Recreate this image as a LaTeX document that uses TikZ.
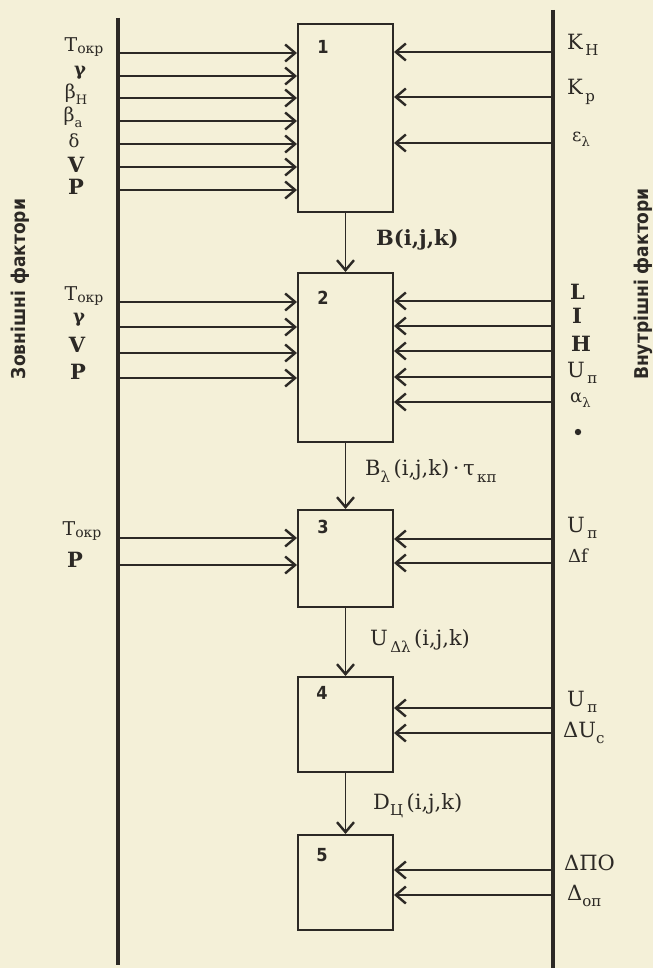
\documentclass[tikz,border=0pt]{standalone}
\usepackage{fontspec}
\setmainfont{DejaVu Serif}
\newfontfamily\sansbold{DejaVu Sans}[FakeStretch=0.9]
\usetikzlibrary{arrows.meta}
\definecolor{paper}{RGB}{244,240,216}
\definecolor{ink}{RGB}{44,41,37}
\newcommand{\lsb}[1]{\raisebox{-0.3em}{\fontsize{15}{15}\selectfont #1}}
\newcommand{\ssb}[1]{\raisebox{-0.3em}{\fontsize{13}{13}\selectfont #1}}
\newcommand{\tsb}[1]{\raisebox{-0.1em}{\fontsize{14}{14}\selectfont #1}}
\begin{document}
\begin{tikzpicture}[x=1pt,y=-1pt,
  bar/.style={draw=ink,line width=3.8pt},
  blk/.style={draw=ink,line width=2pt,minimum width=95pt,inner sep=0pt},
  inarrow/.style={draw=ink,line width=1.5pt,-{Straight Barb[length=10pt,width=17pt,line width=2.4pt]}},
  flow/.style={draw=ink,line width=1.5pt,-{Straight Barb[length=10pt,width=17pt,line width=2.4pt]}},
  lbl/.style={text=ink,inner sep=0pt,font=\fontsize{21}{21}\selectfont},
  blbl/.style={text=ink,inner sep=0pt,font=\fontsize{21}{21}\selectfont\bfseries},
  glbl/.style={text=ink,inner sep=0pt,font=\fontsize{18}{18}\selectfont},
  tlbl/.style={text=ink,inner sep=0pt,font=\fontsize{19}{19}\selectfont},
  num/.style={text=ink,inner sep=0pt,font=\sansbold\bfseries\fontsize{18}{18}\selectfont},
  side/.style={text=ink,inner sep=0pt,rotate=90,font=\sansbold\bfseries\fontsize{19}{19}\selectfont}
]
\fill[paper] (0,0) rectangle (653,968);
\useasboundingbox (0,0) rectangle (653,968);

% bars
\coordinate (lbt) at (118,18);
\coordinate (lbb) at (118,965);
\coordinate (rbt) at (553,10);
\coordinate (rbb) at (553,968);
\draw[bar] (lbt) -- (lbb);
\draw[bar] (rbt) -- (rbb);

% side labels
\node[side] (ext) at (20,289) {Зовнішні фактори};
\node[side] (int) at (643,284) {Внутрішні фактори};

% blocks
\node[blk,minimum height=188pt] (b1) at (345.5,118) {};
\node[blk,minimum height=169pt] (b2) at (345.5,357.5) {};
\node[blk,minimum height=97pt]  (b3) at (345.5,558.5) {};
\node[blk,minimum height=95pt]  (b4) at (345.5,724.5) {};
\node[blk,minimum height=95pt]  (b5) at (345.5,882.5) {};
\node[num] (n1) at (323,47) {1};
\node[num] (n2) at (323,298) {2};
\node[num] (n3) at (323,527) {3};
\node[num] (n4) at (322,693) {4};
\node[num] (n5) at (322,855) {5};

% left inputs
\foreach \y in {53,76,98,121,144,167,190} \draw[inarrow] (lbt |- 0,\y) -- (b1.west |- 0,\y);
\foreach \y in {302,327,353,378} \draw[inarrow] (lbt |- 0,\y) -- (b2.west |- 0,\y);
\foreach \y in {538,565} \draw[inarrow] (lbt |- 0,\y) -- (b3.west |- 0,\y);

% right inputs
\foreach \y in {52,97,143} \draw[inarrow] (rbt |- 0,\y) -- (b1.east |- 0,\y);
\foreach \y in {301,326,351,377,402} \draw[inarrow] (rbt |- 0,\y) -- (b2.east |- 0,\y);
\foreach \y in {539,563} \draw[inarrow] (rbt |- 0,\y) -- (b3.east |- 0,\y);
\foreach \y in {708,733} \draw[inarrow] (rbt |- 0,\y) -- (b4.east |- 0,\y);
\foreach \y in {870,895} \draw[inarrow] (rbt |- 0,\y) -- (b5.east |- 0,\y);

% flow between blocks
\draw[flow] (b1.south) -- (b2.north);
\draw[flow] (b2.south) -- (b3.north);
\draw[flow] (b3.south) -- (b4.north);
\draw[flow] (b4.south) -- (b5.north);

\node[blbl,anchor=west] (f1) at (376,240) {B(i,j,k)};
\node[lbl,anchor=west] (f2) at (365,471) {B\lsb{λ}\,(i,j,k)\,·\,τ\lsb{\,кп}};
\node[lbl,anchor=west] (f3) at (370,641) {U\lsb{\,Δλ}\,(i,j,k)};
\node[lbl,anchor=west] (f4) at (373,806) {D\lsb{Ц}\,(i,j,k)};

% left labels
\node[tlbl] (l11) at (84,47) {T\tsb{окр}};
\node[glbl] (l12) at (80,73) {\bfseries γ};
\node[tlbl] (l13) at (76,94) {β\ssb{H}};
\node[tlbl] (l14) at (73,117) {β\ssb{a}};
\node[glbl] (l15) at (74,141) {δ};
\node[blbl] (l16) at (76,165) {V};
\node[blbl] (l17) at (76,187) {P};
\node[tlbl] (l21) at (84,296) {T\tsb{окр}};
\node[glbl] (l22) at (79,320) {\bfseries γ};
\node[blbl] (l23) at (77,345) {V};
\node[blbl] (l24) at (78,372) {P};
\node[tlbl] (l31) at (82,531) {T\tsb{окр}};
\node[blbl] (l32) at (75,560) {P};

% right labels
\node[lbl,anchor=west] (r11) at (567,45) {K\lsb{\,H}};
\node[lbl,anchor=west] (r12) at (567,92) {K\lsb{\,p}};
\node[glbl,anchor=west] (r13) at (572,139) {ε\ssb{λ}};
\node[blbl,anchor=west] (r21) at (570,292) {L};
\node[blbl,anchor=west] (r22) at (572,316) {I};
\node[blbl,anchor=west] (r23) at (571,344) {H};
\node[lbl,anchor=west] (r24) at (567,373) {U\lsb{\,п}};
\node[glbl,anchor=west] (r25) at (570,400) {α\ssb{λ}};
\fill[ink] (578,432) circle (3.2pt);
\node[lbl,anchor=west] (r31) at (567,528) {U\lsb{\,п}};
\node[glbl,anchor=west] (r32) at (568,556) {Δf};
\node[lbl,anchor=west] (r41) at (567,702) {U\lsb{\,п}};
\node[lbl,anchor=west] (r42) at (563,733) {ΔU\lsb{c}};
\node[lbl,anchor=west] (r51) at (564,863) {ΔПО};
\node[lbl,anchor=west] (r52) at (567,896) {Δ\lsb{оп}};
\end{tikzpicture}
\end{document}
